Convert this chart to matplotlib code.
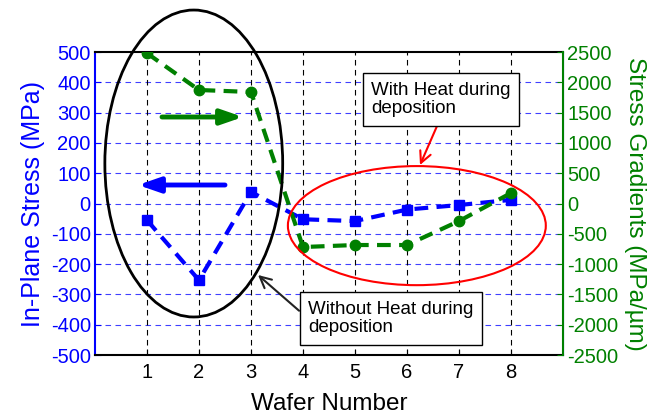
import matplotlib
matplotlib.use("Agg")
import matplotlib.pyplot as plt
from matplotlib.patches import Ellipse

plt.rcParams['font.family'] = ['Liberation Sans', 'DejaVu Sans']
plt.rcParams['axes.unicode_minus'] = False

wafers = [1, 2, 3, 4, 5, 6, 7, 8]
in_plane_stress = [-55, -253, 38, -52, -58, -20, -5, 12]          # MPa
stress_gradient = [2480, 1873, 1840, -718, -685, -685, -290, 173]  # MPa/um

left_ticks = list(range(-500, 501, 100))
right_ticks = list(range(-2500, 2501, 500))

fig = plt.figure(figsize=(6.55, 4.16), dpi=100)
ax1 = fig.add_axes([0.145, 0.1466, 0.7145, 0.7284])
ax2 = ax1.twinx()

BLUE = '#0000ff'
GREEN = '#008000'

ax1.set_xlim(0, 9)
ax1.set_ylim(-500, 500)
ax2.set_ylim(-2500, 2500)
ax1.set_xticks(wafers)
ax1.set_yticks(left_ticks)
ax2.set_yticks(right_ticks)

# grid
for y in left_ticks[1:-1]:
    ax1.axhline(y, color=BLUE, ls=(0, (5, 4)), lw=0.8, alpha=0.75, zorder=0)
for x in wafers:
    ax1.axvline(x, color='black', ls=(0, (5, 4)), lw=0.8, zorder=0)

ax1.plot(wafers, in_plane_stress, color=BLUE, ls=(0, (3.3, 2)), lw=3,
         marker='s', ms=7, zorder=3)
ax2.plot(wafers, stress_gradient, color=GREEN, ls=(0, (3.3, 2)), lw=3,
         marker='o', ms=7.5, zorder=3)

ax1.tick_params(axis='y', colors=BLUE, labelsize=14.5, direction='in', length=4, pad=3)
ax2.tick_params(axis='y', colors=GREEN, labelsize=14.5, direction='in', length=4, pad=3)
ax1.tick_params(axis='x', colors='black', labelsize=14.5, direction='in', length=4, pad=6)

for sp in ['top', 'bottom']:
    ax1.spines[sp].set_color('black')
    ax1.spines[sp].set_linewidth(1.5)
ax1.spines['left'].set_color(BLUE)
ax1.spines['left'].set_linewidth(1.5)
ax1.spines['right'].set_color(BLUE)
ax2.spines['right'].set_color(GREEN)
ax2.spines['right'].set_linewidth(1.5)
for sp in ['top', 'bottom', 'left']:
    ax2.spines[sp].set_visible(False)

ax1.set_ylabel('In-Plane Stress (MPa)', color=BLUE, fontsize=18, labelpad=4)
ax2.set_ylabel('Stress Gradients (MPa/\u00b5m)', color=GREEN, fontsize=17.5,
               rotation=270, labelpad=20)
ax1.set_xlabel('Wafer Number', fontsize=17.5, labelpad=8)

# ellipses
e1 = Ellipse((1.90, 132), 3.42, 1013, fill=False, edgecolor='black', lw=2,
             transform=ax1.transData, clip_on=False, zorder=4)
e2 = Ellipse((6.19, -73), 4.96, 393, fill=False, edgecolor='red', lw=1.5,
             transform=ax1.transData, clip_on=False, zorder=4)
ax2.add_patch(e1)
ax2.add_patch(e2)

# direction arrows
ax2.annotate('', xy=(243, 299), xytext=(162, 299), xycoords='figure pixels',
             textcoords='figure pixels',
             arrowprops=dict(arrowstyle='-|>,head_length=1.3,head_width=0.45',
                             color=GREEN, lw=3.5, shrinkA=0, shrinkB=0))
ax2.annotate('', xy=(138, 231), xytext=(225, 231), xycoords='figure pixels',
             textcoords='figure pixels',
             arrowprops=dict(arrowstyle='-|>,head_length=1.3,head_width=0.45',
                             color=BLUE, lw=3.5, shrinkA=0, shrinkB=0))

# text boxes
ax2.annotate('With Heat during\ndeposition', xy=(420, 251), xytext=(371, 316.5),
             xycoords='figure pixels', textcoords='figure pixels',
             ha='left', va='center', fontsize=13.5, linespacing=1.15,
             bbox=dict(boxstyle='square,pad=0.45', fc='white', ec='black', lw=1),
             arrowprops=dict(arrowstyle='->,head_length=0.6,head_width=0.3',
                             color='red', lw=1.5, relpos=(0.5, 0),
                             shrinkA=0, shrinkB=0),
             zorder=6)
ax2.annotate('Without Heat during\ndeposition', xy=(258, 141), xytext=(308, 97.5),
             xycoords='figure pixels', textcoords='figure pixels',
             ha='left', va='center', fontsize=13.5, linespacing=1.15,
             bbox=dict(boxstyle='square,pad=0.45', fc='white', ec='black', lw=1),
             arrowprops=dict(arrowstyle='->,head_length=0.6,head_width=0.3',
                             color='#222222', lw=1.5, relpos=(0, 0.5),
                             shrinkA=0, shrinkB=0),
             zorder=6)

fig.savefig('out.png', dpi=100)
